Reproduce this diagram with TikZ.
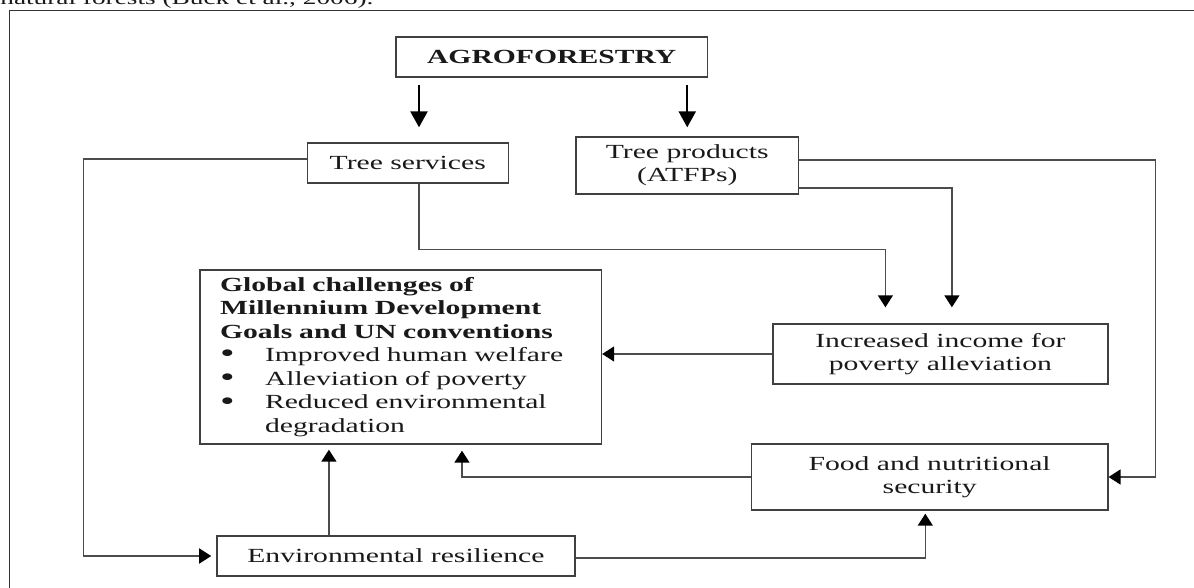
\documentclass[tikz,border=0pt]{standalone}
\usepackage{fontspec}
\setmainfont[FakeStretch=1.48]{Liberation Serif}
\usetikzlibrary{arrows.meta}

\newcommand{\bulletmark}{\makebox[0.9cm][l]{\smash{\raisebox{-0.12ex}{\fontsize{16pt}{0pt}\selectfont\textbullet}}}}

\begin{document}
\begin{tikzpicture}[
    x = 0.02cm,
    y = -0.02cm,
    box/.style = {draw=black!75, line width=0.8pt, align=center,
              inner sep=0pt, text=black!90,
              font=\fontsize{11.4pt}{13.1pt}\selectfont},
    link/.style = {draw=black!70, line width=0.8pt,
              -{Triangle[width=0.3cm, length=0.24cm, color=black]}},
    bigarrow/.style = {draw=black, line width=1.4pt,
              -{Triangle[width=0.34cm, length=0.32cm]}},
    ]

\useasboundingbox (0,0) rectangle (1194,588);

% page around the figure
\node[anchor=base west, inner sep=0pt, text=black!90,
      font=\fontsize{10.5pt}{13pt}\selectfont] (caption) at (0,5)
      {natural forests (Buck et al., 2006).};
\draw [black!80, line width=0.7pt] (9.6,10.7) rectangle (1220,620);

\node[box, minimum width=6.23cm, minimum height=0.8cm] (agro) at (551.7,57)
    {\textbf{AGROFORESTRY}};
\node[box, minimum width=4.02cm, minimum height=0.8cm] (services) at (407.75,163)
    {Tree services};
\node[box, minimum width=4.45cm, minimum height=1.14cm] (products) at (687.25,165.5)
    {Tree products\\(ATFPs)};
\node[box, minimum width=6.7cm, minimum height=1.2cm] (income) at (940.4,354)
    {Increased income for\\poverty alleviation};
\node[box, minimum width=8.03cm, minimum height=3.48cm, align=left,
      text width=7.23cm, inner xsep=0.4cm,
      font=\fontsize{11.4pt}{13.4pt}\selectfont] (global) at (400.75,357)
    {\textbf{Global challenges of}\\
     \textbf{Millennium Development}\\
     \textbf{Goals and UN conventions}\\
     \bulletmark Improved human welfare\\
     \bulletmark Alleviation of poverty\\
     \bulletmark Reduced environmental\\
     \hspace*{0.9cm}degradation};
\node[box, minimum width=7.13cm, minimum height=1.32cm] (food) at (929.65,477)
    {Food and nutritional\\security};
\node[box, minimum width=7.16cm, minimum height=0.8cm] (env) at (395.9,556)
    {Environmental resilience};

\draw [bigarrow, shorten <=0.14cm, shorten >=0.3cm]
    ([xshift=0.225cm]services.north |- agro.south) -- ([xshift=0.225cm]services.north);
\draw [bigarrow, shorten <=0.14cm, shorten >=0.18cm]
    (products.north |- agro.south) -- (products.north);

\draw [link, shorten >=0.1cm] ([yshift=0.08cm]services.west) -- ++(-223,0) |- (env.west);
\draw [link, shorten >=0.32cm] ([xshift=0.225cm]services.south) -- ++(0,66)
    -| ([xshift=-1.1cm]income.north);
\draw [link, shorten >=0.32cm] ([yshift=-0.45cm]products.east)
    -| ([xshift=0.23cm]income.north);
\draw [link] ([yshift=0.11cm]products.east) -- ++(356.3,0) |- (food.east);
\draw [link] (income.west) -- (income.west -| global.east);
\draw [link, shorten >=0.1cm] ([xshift=-1.34cm]env.north)
    -- ([xshift=-1.34cm]env.north |- global.south);
\draw [link, shorten >=0.12cm] (food.west) -| ([xshift=1.225cm]global.south);
\draw [link, shorten >=0.06cm] ([yshift=-0.04cm]env.east) -| ([xshift=-0.087cm]food.south);

\end{tikzpicture}
\end{document}
